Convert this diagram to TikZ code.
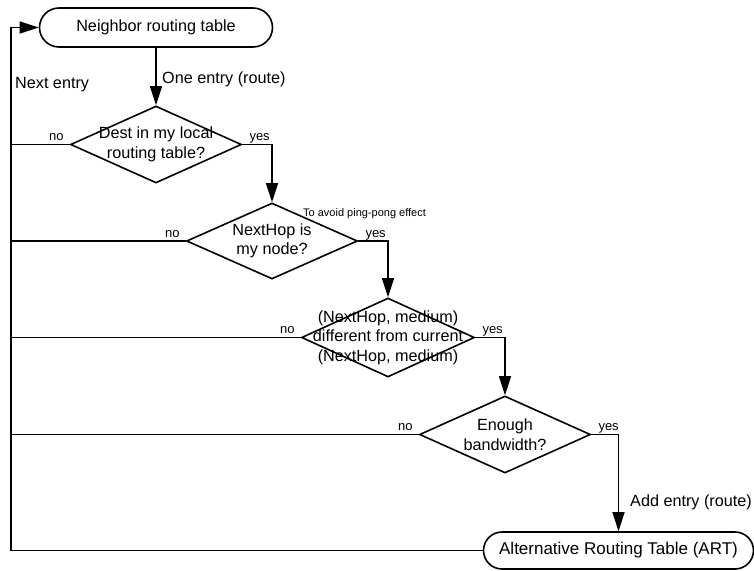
\documentclass[tikz,border=0pt]{standalone}
\usepackage{fontspec}
\setmainfont{Liberation Sans}
\usetikzlibrary{shapes.geometric,shapes.misc,arrows.meta}
\newcommand{\flowfont}{\fontsize{16.2pt}{19.5pt}\selectfont}
\newcommand{\bigflowfont}{\fontsize{17pt}{20pt}\selectfont}
\newcommand{\tagfont}{\fontsize{13pt}{15pt}\selectfont}
\newcommand{\notefont}{\fontsize{11pt}{13pt}\selectfont}
\begin{document}
\begin{tikzpicture}[x=1pt,y=-1pt,
  line/.style={line width=1.6pt},
  flow/.style={line, -{Triangle[length=19pt,width=12pt]}},
  terminal/.style={rounded rectangle, draw, line width=1.6pt, inner sep=0pt, font=\flowfont},
  decision/.style={diamond, draw, line width=1.6pt, inner sep=0pt},
  dtext/.style={align=center, inner sep=0pt, font=\flowfont},
  tag/.style={inner sep=0pt, font=\tagfont},
  note/.style={inner sep=0pt, font=\notefont},
  edgetext/.style={inner sep=0pt, font=\flowfont}]
\fill[white] (0,0) rectangle (754,570);
\useasboundingbox (0,0) rectangle (754,570);

% start and end of the scan
\node[terminal, minimum width=233pt, minimum height=39pt] (nrt) at (156,27.5) {Neighbor routing table};
\node[terminal, minimum width=270pt, minimum height=37pt, font=\bigflowfont] (art) at (618.5,550.5) {Alternative Routing Table (ART)};

% the four tests
\node[decision, minimum width=171pt, minimum height=77pt] (d1) at (156,144.5) {};
\node[dtext] (d1t) at (d1) {Dest in my local\\routing table?};
\node[decision, minimum width=171pt, minimum height=76pt] (d2) at (272,241) {};
\node[dtext] (d2t) at (d2) {NextHop is\\my node?};
\node[decision, minimum width=173pt, minimum height=79pt] (d3) at (388,337.5) {};
\node[dtext] (d3t) at (d3) {(NextHop, medium)\\different from current\\(NextHop, medium)};
\node[decision, minimum width=171pt, minimum height=77pt] (d4) at (505,434.5) {};
\node[dtext] (d4t) at (d4) {Enough\\bandwidth?};

% return rail on the left
\coordinate (rail) at (11,300);

% yes branches
\draw[flow] (nrt) -- (d1);
\draw[flow] (d1.east) -| (d2.north);
\draw[flow] (d2.east) -| (d3.north);
\draw[flow] (d3.east) -| (d4.north);
\draw[flow] (d4.east) -| (art.north);

% no branches and loop back
\draw[line] (d1.west) -- (d1.west -| rail);
\draw[line] (d2.west) -- (d2.west -| rail);
\draw[line] (d3.west) -- (d3.west -| rail);
\draw[line] (d4.west) -- (d4.west -| rail);
\draw[flow] (art.west) -- (art.west -| rail) -- (rail |- nrt.west) -- (nrt.west);

% branch labels
\foreach \d in {d1,d2,d3,d4}{
  \node[tag, anchor=base east] (\d no) at ([xshift=-6pt,yshift=4pt]\d.west) {no};
  \node[tag, anchor=base west] (\d yes) at ([xshift=7pt,yshift=4pt]\d.east) {yes};
}

% connector texts
\node[edgetext, anchor=base west] (oneentry) at (162,83) {One entry (route)};
\node[edgetext, anchor=base west] (nextentry) at (15,88.5) {Next entry};
\node[edgetext, anchor=base west] (addentry) at (630,506) {Add entry (route)};
\node[note, anchor=base west] (pingpong) at (303,216) {To avoid ping-pong effect};
\end{tikzpicture}
\end{document}
